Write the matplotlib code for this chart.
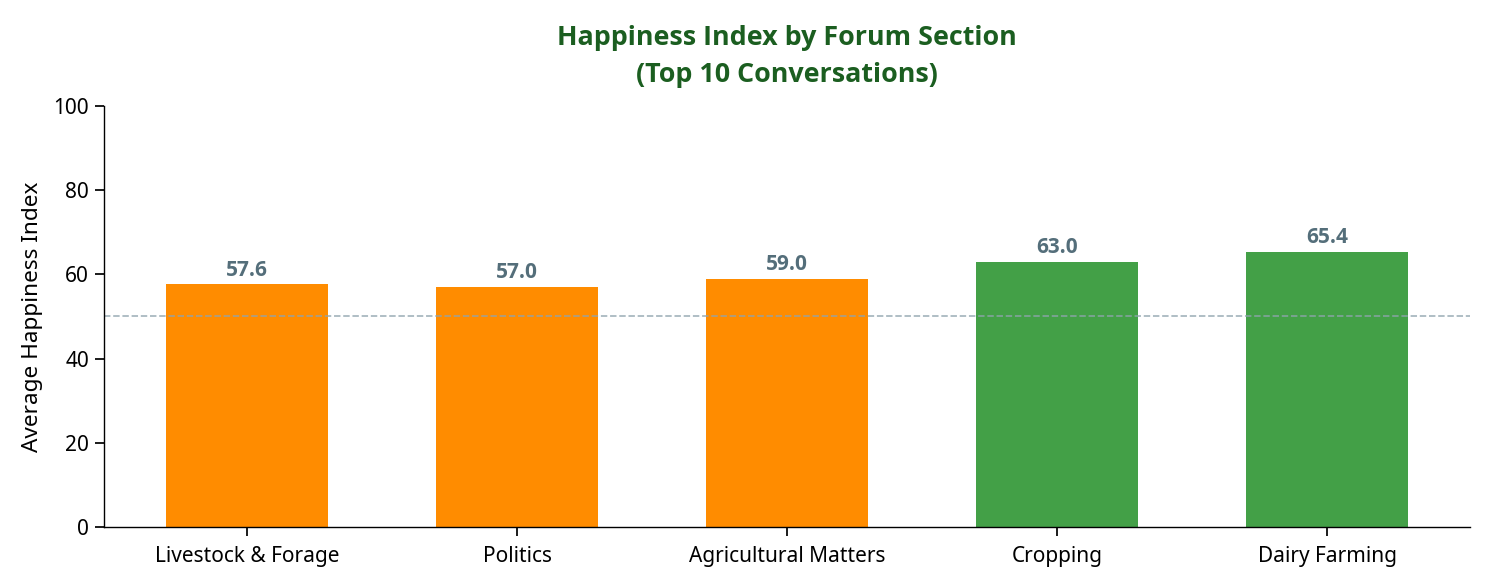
import matplotlib
matplotlib.use('Agg')
import matplotlib.pyplot as plt

plt.rcParams['font.family'] = ['Noto Sans', 'DejaVu Sans']

# Data
sections = ['Livestock & Forage', 'Politics', 'Agricultural Matters', 'Cropping', 'Dairy Farming']
happiness = [57.6, 57.0, 59.0, 63.0, 65.4]
bar_colors = ['#FF8C00', '#FF8C00', '#FF8C00', '#43A047', '#43A047']
neutral_line = 50

fig = plt.figure(figsize=(11.88, 4.68), dpi=125)
ax = fig.add_axes([0.070, 0.099, 0.920, 0.720])

bars = ax.bar(sections, happiness, width=0.6, color=bar_colors)

# value labels on top of each bar
for b, v in zip(bars, happiness):
    ax.text(b.get_x() + b.get_width() / 2, v + 0.9, f'{v:.1f}',
            ha='center', va='bottom', fontsize=12, fontweight='bold', color='#546E7A',
            family=['Open Sans', 'DejaVu Sans'])

ax.axhline(neutral_line, color='#90A4AE', linestyle='--', linewidth=1, alpha=0.8)

ax.set_ylim(0, 100)
ax.set_ylabel('Average Happiness Index', fontsize=13, labelpad=6)
ax.set_title('Happiness Index by Forum Section\n(Top 10 Conversations)',
             fontsize=15.5, fontweight='bold', color='#1B5E20', pad=14, linespacing=1.55,
             family=['Open Sans', 'DejaVu Sans'])
ax.tick_params(axis='both', labelsize=12, length=5, width=1)
ax.tick_params(axis='x', pad=6)
ax.spines['top'].set_visible(False)
ax.spines['right'].set_visible(False)

fig.savefig('out.png', dpi=125)
